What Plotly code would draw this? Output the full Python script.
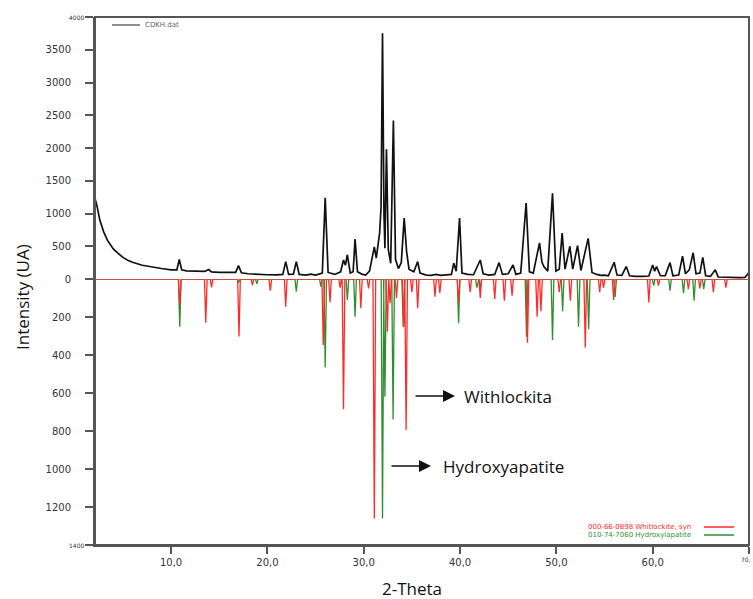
import plotly.graph_objects as go

# ---------------- data ----------------
# measured diffractogram (CDKH.dat): 2-theta / intensity
sample_theta = [2.1, 2.3, 2.6, 3.0, 3.4, 4.0, 4.5, 5.0, 5.5, 6.0, 7.0, 8.0, 9.0, 10.0, 10.6, 10.85, 11.1,
                11.6, 12.5, 13.5, 13.9, 14.2, 15.0, 16.0, 16.7, 17.0, 17.3, 18.0, 19.0, 20.0, 21.0, 21.6,
                21.9, 22.2, 22.7, 23.0, 23.3, 24.0, 24.5, 25.0, 25.7, 26.0, 26.3, 27.0, 27.6, 27.9, 28.1,
                28.3, 28.6, 28.9, 29.1, 29.35, 29.8, 30.2, 30.6, 31.1, 31.3, 31.65, 31.8, 31.95, 32.1,
                32.2, 32.36, 32.55, 32.8, 33.08, 33.3, 33.6, 33.9, 34.2, 34.45, 34.7, 35.2, 35.6, 35.85,
                36.5, 37.0, 37.5, 38.0, 38.5, 39.1, 39.35, 39.6, 39.95, 40.2, 40.8, 41.4, 42.1, 42.4,
                43.0, 43.6, 44.05, 44.4, 45.0, 45.5, 45.8, 46.3, 46.86, 47.2, 47.6, 48.25, 48.5, 48.7,
                49.1, 49.6, 49.95, 50.3, 50.6, 50.9, 51.4, 51.7, 52.2, 52.55, 53.3, 53.7, 54.2, 54.6,
                55.0, 55.4, 56.0, 56.3, 56.8, 57.25, 57.6, 58.2, 59.0, 59.6, 60.0, 60.2, 60.4, 60.8,
                61.3, 61.8, 62.1, 62.7, 63.1, 63.4, 63.8, 64.2, 64.5, 64.9, 65.2, 65.5, 66.0, 66.5,
                66.8, 67.5, 68.0, 69.0, 69.6, 69.95, 70.0]
sample_int = [1230, 1120, 900, 720, 590, 460, 390, 330, 285, 255, 210, 180, 160, 140, 140, 300, 140,
              125, 120, 115, 145, 110, 100, 95, 100, 205, 95, 80, 70, 65, 62, 70,
              265, 70, 75, 265, 70, 60, 75, 60, 90, 1240, 100, 70, 110, 290, 210,
              370, 90, 110, 610, 110, 75, 60, 120, 490, 320, 700, 1100, 3750, 1000,
              470, 1980, 450, 240, 2420, 300, 160, 250, 930, 420, 150, 110, 265, 90,
              60, 55, 70, 55, 60, 70, 240, 120, 930, 90, 70, 65, 290, 80,
              60, 70, 250, 70, 80, 215, 70, 90, 1160, 110, 90, 550, 260, 190,
              120, 1310, 120, 150, 700, 150, 500, 150, 510, 130, 620, 100, 70, 55,
              60, 50, 255, 60, 55, 190, 50, 40, 40, 45, 215, 120, 190, 50,
              50, 250, 50, 60, 350, 80, 140, 400, 80, 90, 330, 50, 40, 140,
              30, 25, 25, 20, 25, 90, 30]

# reference pattern 000-66-0898 Whitlockite, syn
whit_theta = [10.9, 13.6, 14.2, 17.05, 18.45, 20.3, 21.9, 25.8, 26.5, 27.55, 27.9, 29.7, 30.5, 31.1,
              32.45, 32.74, 33.4, 34.15, 34.4, 35.0, 35.6, 37.4, 37.9, 39.85, 41.05, 42.1, 43.6, 44.6,
              45.4, 47.0, 48.0, 48.4, 50.3, 51.45, 53.0, 54.5, 54.9, 55.95, 59.6, 60.6, 63.7, 64.9,
              66.3, 67.6]
whit_int = [137, 230, 44, 303, 32, 61, 146, 347, 123, 45, 686, 154, 50, 1260,
            277, 126, 100, 251, 795, 70, 154, 93, 74, 126, 70, 100, 105, 114,
            88, 335, 198, 170, 70, 114, 360, 70, 45, 110, 123, 35, 53, 50,
            70, 45]

# reference pattern 010-74-7060 Hydroxylapatite
hap_theta = [10.9, 17.0, 18.9, 23.0, 25.55, 26.0, 28.3, 29.1, 31.95, 32.2, 33.05, 34.1, 39.85, 41.75,
             42.1, 46.9, 49.6, 50.65, 52.3, 53.35, 56.1, 60.1, 61.8, 63.2, 64.3, 65.3]
hap_int = [251, 20, 26, 67, 40, 466, 110, 198, 1260, 620, 740, 251, 233, 45,
           53, 304, 321, 170, 251, 265, 95, 35, 61, 75, 114, 53]

x_ticks = [10, 20, 30, 40, 50, 60, 70]
x_ticktext = ["10,0", "20,0", "30,0", "40,0", "50,0", "60,0", ""]
top_ticks = [0, 500, 1000, 1500, 2000, 2500, 3000, 3500, 4000]
top_ticktext = ["0", "500", "1000", "1500", "2000", "2500", "3000", "3500", ""]
bot_ticks = [200, 400, 600, 800, 1000, 1200, 1400]
bot_ticktext = ["200", "400", "600", "800", "1000", "1200", ""]

X_MIN, X_MAX = 2.1, 70.0
HALF = 0.14  # half base width of a drawn reference peak


def stick_profile(thetas, ints):
    xs, ys = [X_MIN], [0]
    for t, h in zip(thetas, ints):
        xs += [t - HALF, t, t + HALF]
        ys += [0, h, 0]
    xs.append(X_MAX)
    ys.append(0)
    return xs, ys


RED = "#ff2b2b"
GREEN = "#2f8f2f"
AXC = "#555555"
TXT = "#333333"

fig = go.Figure()
hx, hy = stick_profile(hap_theta, hap_int)
wx, wy = stick_profile(whit_theta, whit_int)
fig.add_trace(go.Scatter(x=hx, y=hy, mode="lines", line=dict(color=GREEN, width=1.3),
                         xaxis="x", yaxis="y", showlegend=False))
fig.add_trace(go.Scatter(x=wx, y=wy, mode="lines", line=dict(color=RED, width=1.3),
                         xaxis="x", yaxis="y", showlegend=False))
fig.add_trace(go.Scatter(x=sample_theta, y=sample_int, mode="lines",
                         line=dict(color="#111111", width=1.7),
                         xaxis="x", yaxis="y2", showlegend=False))

split = (545 - 279) / 528.0
tickfont = dict(family="DejaVu Sans", size=10, color=TXT)

fig.update_layout(
    width=753, height=599,
    margin=dict(l=95, r=4, t=17, b=54),
    paper_bgcolor="white", plot_bgcolor="white",
    font=dict(family="DejaVu Sans", color=TXT),
    xaxis=dict(domain=[0, 1], anchor="y", range=[X_MIN, X_MAX],
               tickvals=x_ticks, ticktext=x_ticktext, ticks="outside", ticklen=7,
               tickwidth=2, tickcolor=AXC, showgrid=False, zeroline=False,
               showline=True, linecolor=AXC, linewidth=2, tickfont=tickfont),
    yaxis=dict(domain=[0, split], anchor="x", range=[1400, 0],
               tickvals=bot_ticks, ticktext=bot_ticktext, ticks="outside", ticklen=8,
               tickwidth=2, tickcolor=AXC, showgrid=False, zeroline=False,
               showline=True, linecolor=AXC, linewidth=2, tickfont=tickfont,
               ticklabelstandoff=12),
    yaxis2=dict(domain=[split, 1], anchor="x", range=[0, 4000],
                tickvals=top_ticks, ticktext=top_ticktext, ticks="outside", ticklen=8,
                tickwidth=2, tickcolor=AXC, showgrid=False, zeroline=False,
                showline=True, linecolor=AXC, linewidth=2, tickfont=tickfont,
                ticklabelstandoff=12),
)

# frame around plot area
fig.add_shape(type="rect", xref="paper", yref="paper", x0=0, y0=0, x1=1, y1=1,
              line=dict(color=AXC, width=2), layer="above")


def px2paper(px, py):
    # window pixel -> paper fraction of the plot area (x 95..749, y 17..545)
    return (px - 95) / 654.0, (545 - py) / 528.0


annots = []
# small end labels
for txt, (px, py), ya in [("4000", (86, 17), "middle"), ("1400", (86, 545), "middle"),
                          ("70,", (753, 554), "top")]:
    x, y = px2paper(px, py)
    annots.append(dict(x=x, y=y, xref="paper", yref="paper", text=txt, showarrow=False,
                       xanchor="right", yanchor=ya,
                       font=dict(family="DejaVu Sans", size=6, color=TXT)))

# axis titles
x, y = px2paper(22, 297)
annots.append(dict(x=x, y=y, xref="paper", yref="paper", text="Intensity (UA)",
                   showarrow=False, textangle=-90, font=dict(family="Open Sans", size=17, color="#111"),
                   xanchor="center", yanchor="middle"))
x, y = px2paper(412, 588)
annots.append(dict(x=x, y=y, xref="paper", yref="paper", text="2-Theta", showarrow=False,
                   font=dict(family="Open Sans", size=17, color="#111"),
                   xanchor="center", yanchor="middle"))

# top legend
x, y = px2paper(143, 25)
annots.append(dict(x=x, y=y, xref="paper", yref="paper", text="CDKH.dat", showarrow=False,
                   xanchor="left", yanchor="middle",
                   font=dict(family="DejaVu Sans", size=7, color="#666")))
x0, y0 = px2paper(112, 25)
x1, _ = px2paper(140, 25)
fig.add_shape(type="line", xref="paper", yref="paper", x0=x0, x1=x1, y0=y0, y1=y0,
              line=dict(color="#444", width=1.2))

# bottom-right legend
for txt, col, py in [("000-66-0898 Whitlockite, syn", RED, 527),
                     ("010-74-7060 Hydroxylapatite", GREEN, 535)]:
    x, y = px2paper(693, py)
    annots.append(dict(x=x, y=y, xref="paper", yref="paper", text=txt, showarrow=False,
                       xanchor="right", yanchor="middle",
                       font=dict(family="DejaVu Sans", size=7, color=col)))
    lx0, ly = px2paper(704, py)
    lx1, _ = px2paper(734, py)
    fig.add_shape(type="line", xref="paper", yref="paper", x0=lx0, x1=lx1, y0=ly, y1=ly,
                  line=dict(color=col, width=1.5))

# arrows with labels
for label, head, tail_dx, text_px in [("Withlockita", (455, 396), -41, 462),
                                      ("Hydroxyapatite", (431, 466), -41, 441)]:
    hx_, hy_ = px2paper(*head)
    annots.append(dict(x=hx_, y=hy_, xref="paper", yref="paper", text="", showarrow=True,
                       ax=tail_dx, ay=0, arrowhead=2, arrowsize=1.6, arrowwidth=1.5,
                       arrowcolor="#111"))
    tx, ty = px2paper(text_px, head[1])
    annots.append(dict(x=tx, y=ty, xref="paper", yref="paper", text=label, showarrow=False,
                       xanchor="left", yanchor="middle",
                       font=dict(family="Open Sans", size=17, color="#111")))

fig.update_layout(annotations=annots)
# remove the default page margin so the 753x599 figure fills the window exactly
fig.write_html("out.html", config={"displayModeBar": False},
               post_script="document.body.style.margin='0';document.body.style.overflow='hidden';")
